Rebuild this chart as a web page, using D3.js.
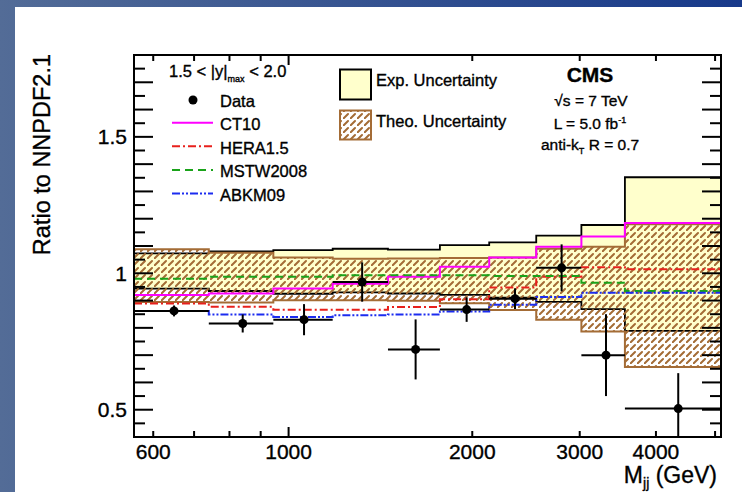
<!DOCTYPE html>
<html>
<head>
<meta charset="utf-8">
<script src="https://cdn.jsdelivr.net/npm/d3@7"></script>
<style>
  body { margin: 0; }
  svg { display: block; font-family: "Liberation Sans", Arial, Helvetica, sans-serif; }
  svg text { stroke: #000; stroke-width: 0.35px; }
</style>
</head>
<body>
<div id="chart"></div>
<script>
// dijet mass bins (GeV), 1.5 < |y|max < 2.0
var binEdges = [558, 740, 944, 1181, 1455, 1770, 2132, 2546, 3019, 3558, 5113];

// measured points, ratio to NNPDF2.1
var dataMass  = [649, 841, 1060, 1320, 1615, 1958, 2350, 2802, 3313, 4351];
var dataRatio = [0.862, 0.816, 0.830, 0.968, 0.721, 0.867, 0.907, 1.020, 0.700, 0.504];
var dataErr   = [0.020, 0.033, 0.057, 0.072, 0.110, 0.045, 0.038, 0.086, 0.150, 0.130];

// experimental and theory uncertainty bands
var expUp    = [1.073, 1.080, 1.085, 1.090, 1.087, 1.103, 1.113, 1.138, 1.177, 1.352];
var expDown  = [0.944, 0.935, 0.925, 0.930, 0.926, 0.921, 0.911, 0.895, 0.869, 0.789];
var theoUp   = [1.088, 1.075, 1.058, 1.053, 1.054, 1.056, 1.058, 1.090, 1.097, 1.180];
var theoDown = [0.895, 0.893, 0.901, 0.901, 0.899, 0.890, 0.865, 0.830, 0.787, 0.657];

// other PDF sets over NNPDF2.1
var ct10     = [0.920, 0.926, 0.944, 0.962, 0.987, 1.024, 1.058, 1.097, 1.135, 1.184];
var hera15   = [0.889, 0.877, 0.866, 0.866, 0.876, 0.905, 0.948, 0.987, 1.022, 1.015];
var mstw2008 = [0.980, 0.987, 0.987, 0.993, 0.993, 0.993, 0.990, 0.990, 0.965, 0.935];
var abkm09   = [0.862, 0.849, 0.840, 0.846, 0.849, 0.860, 0.885, 0.913, 0.929, 0.929];

var xLabels = [600, 1000, 2000, 3000, 4000];
var xTicks  = [600, 700, 800, 900, 1000, 2000, 3000, 4000, 5000];
var yLabels = [0.5, 1, 1.5];
var yTicks  = d3.range(8, 37).map(function(k) { return k * 0.05; });

var W = 742, H = 492;
var padL = 134, padR = 721, padT = 55, padB = 437;

var x = d3.scaleLog().domain([558, 5113]).range([padL, padR]);
var y = d3.scaleLinear().domain([0.4, 1.8]).range([padB, padT]);

var svg = d3.select("#chart").append("svg")
  .attr("width", W)
  .attr("height", H);

var defs = svg.append("defs");
var grad = defs.append("linearGradient").attr("id", "bg")
  .attr("x1", 0).attr("y1", 0).attr("x2", 1).attr("y2", 0);
grad.append("stop").attr("offset", 0).attr("stop-color", "#536c97");
grad.append("stop").attr("offset", 1).attr("stop-color", "#17398a");

var hatch = defs.append("pattern").attr("id", "hatch")
  .attr("patternUnits", "userSpaceOnUse")
  .attr("width", 7).attr("height", 7);
hatch.append("path")
  .attr("d", "M0.5,6.5L5,2")
  .attr("stroke", "#a46c36")
  .attr("stroke-width", 2)
  .attr("stroke-linecap", "round");

defs.append("clipPath").attr("id", "plotclip")
  .append("rect")
  .attr("x", padL).attr("y", padT)
  .attr("width", padR - padL).attr("height", padB - padT);

// slide background
svg.append("rect").attr("width", W).attr("height", H).attr("fill", "url(#bg)");
svg.append("rect").attr("x", 15).attr("y", 7).attr("width", W - 15).attr("height", H - 7).attr("fill", "#fff");

function stepPts(vals) {
  return binEdges.map(function(e, i) { return [e, vals[Math.min(i, vals.length - 1)]]; });
}
var stepLine = d3.line()
  .x(function(d) { return x(d[0]); })
  .y(function(d) { return y(d[1]); })
  .curve(d3.curveStepAfter);
function stepArea(up, down) {
  return d3.area()
    .x(function(d) { return x(d); })
    .y0(function(d, i) { return y(down[Math.min(i, down.length - 1)]); })
    .y1(function(d, i) { return y(up[Math.min(i, up.length - 1)]); })
    .curve(d3.curveStepAfter)(binEdges);
}

var plot = svg.append("g").attr("clip-path", "url(#plotclip)");

// exp. uncertainty
plot.append("path").attr("d", stepArea(expUp, expDown)).attr("fill", "#ffffcc");
[expUp, expDown].forEach(function(v) {
  plot.append("path").attr("d", stepLine(stepPts(v)))
    .attr("fill", "none").attr("stroke", "#000").attr("stroke-width", 1.8);
});

// theo. uncertainty
plot.append("path").attr("d", stepArea(theoUp, theoDown)).attr("fill", "url(#hatch)");
[theoUp, theoDown].forEach(function(v) {
  plot.append("path").attr("d", stepLine(stepPts(v)))
    .attr("fill", "none").attr("stroke", "#a46c36").attr("stroke-width", 2);
});

var curves = [
  { name: "CT10", vals: ct10, color: "#ff00ff", dash: null },
  { name: "HERA1.5", vals: hera15, color: "#e8201c", dash: "8,3,2,3" },
  { name: "MSTW2008", vals: mstw2008, color: "#1aa31a", dash: "8,5" },
  { name: "ABKM09", vals: abkm09, color: "#1c2cf0", dash: "8,2,2,2,2,2" }
];
curves.forEach(function(c) {
  plot.append("path").attr("d", stepLine(stepPts(c.vals)))
    .attr("fill", "none").attr("stroke", c.color).attr("stroke-width", 2)
    .attr("stroke-dasharray", c.dash);
});

// data with errors
var pts = plot.selectAll(".pt").data(dataMass).enter().append("g").attr("class", "pt");
pts.append("line")
  .attr("x1", function(d, i) { return x(binEdges[i]); })
  .attr("x2", function(d, i) { return x(binEdges[i + 1]); })
  .attr("y1", function(d, i) { return y(dataRatio[i]); })
  .attr("y2", function(d, i) { return y(dataRatio[i]); })
  .attr("stroke", "#000").attr("stroke-width", 2);
pts.append("line")
  .attr("x1", function(d) { return x(d); })
  .attr("x2", function(d) { return x(d); })
  .attr("y1", function(d, i) { return y(dataRatio[i] - dataErr[i]); })
  .attr("y2", function(d, i) { return y(dataRatio[i] + dataErr[i]); })
  .attr("stroke", "#000").attr("stroke-width", 2);
pts.append("circle")
  .attr("cx", function(d) { return x(d); })
  .attr("cy", function(d, i) { return y(dataRatio[i]); })
  .attr("r", 4.5)
  .attr("fill", "#000");

// frame and ticks
svg.append("rect")
  .attr("x", padL).attr("y", padT)
  .attr("width", padR - padL).attr("height", padB - padT)
  .attr("fill", "none").attr("stroke", "#000").attr("stroke-width", 2);

var ticks = svg.append("g").attr("stroke", "#000").attr("stroke-width", 2);
yTicks.forEach(function(v, k) {
  var len = (k % 2 === 0) ? 19 : 11;
  ticks.append("line").attr("x1", padL).attr("x2", padL + len).attr("y1", y(v)).attr("y2", y(v));
  ticks.append("line").attr("x1", padR).attr("x2", padR - len).attr("y1", y(v)).attr("y2", y(v));
});
xTicks.forEach(function(m) {
  var len = (m === 1000) ? 10 : 6;
  ticks.append("line").attr("x1", x(m)).attr("x2", x(m)).attr("y1", padB).attr("y2", padB - len);
  ticks.append("line").attr("x1", x(m)).attr("x2", x(m)).attr("y1", padT).attr("y2", padT + len);
});

// tick labels
svg.selectAll(".xl").data(xLabels).enter().append("text")
  .attr("x", function(d) { return x(d); })
  .attr("y", 459)
  .attr("text-anchor", "middle")
  .attr("font-size", 21)
  .text(function(d) { return d; });
svg.selectAll(".yl").data(yLabels).enter().append("text")
  .attr("x", 127)
  .attr("y", function(d) { return y(d) + 7.5; })
  .attr("text-anchor", "end")
  .attr("font-size", 21)
  .text(function(d) { return d; });

// axis titles
var xt = svg.append("text").attr("x", 717).attr("y", 483).attr("text-anchor", "end").attr("font-size", 23);
xt.append("tspan").text("M");
xt.append("tspan").attr("font-size", 14).attr("dy", 5).text("jj");
xt.append("tspan").attr("dy", -5).text(" (GeV)");

svg.append("text")
  .attr("transform", "translate(50,54) rotate(-90)")
  .attr("text-anchor", "end")
  .attr("font-size", 23.5)
  .text("Ratio to NNPDF2.1");

// legend
var leg = svg.append("g").attr("font-size", 16.5);
var rap = leg.append("text").attr("x", 169).attr("y", 77);
rap.append("tspan").text("1.5 < |y|");
rap.append("tspan").attr("font-size", 9).attr("dy", 5).text("max");
rap.append("tspan").attr("dy", -5).text(" < 2.0");

leg.append("circle").attr("cx", 193).attr("cy", 100).attr("r", 4.5).attr("fill", "#000");
leg.append("text").attr("x", 220).attr("y", 106.5).text("Data");

curves.forEach(function(c, i) {
  var ly = 122.7 + i * 23.6;
  leg.append("line")
    .attr("x1", 172).attr("x2", 213).attr("y1", ly).attr("y2", ly)
    .attr("stroke", c.color).attr("stroke-width", 2)
    .attr("stroke-dasharray", c.dash);
  leg.append("text").attr("x", 220).attr("y", ly + 7.5).text(c.name);
});

leg.append("rect").attr("x", 340).attr("y", 69.5).attr("width", 31).attr("height", 30)
  .attr("fill", "#ffffcc").attr("stroke", "#000").attr("stroke-width", 2);
leg.append("text").attr("x", 376).attr("y", 86).text("Exp. Uncertainty");
leg.append("rect").attr("x", 340).attr("y", 110.5).attr("width", 31).attr("height", 29)
  .attr("fill", "url(#hatch)").attr("stroke", "#a46c36").attr("stroke-width", 2);
leg.append("text").attr("x", 376).attr("y", 126.5).text("Theo. Uncertainty");

// experiment labels
var info = svg.append("g").attr("text-anchor", "middle").attr("font-size", 15.5);
info.append("text").attr("x", 590).attr("y", 82).attr("font-size", 21).attr("font-weight", "bold").text("CMS");
info.append("text").attr("x", 591).attr("y", 106).text("\u221As = 7 TeV");
var lum = info.append("text").attr("x", 590).attr("y", 129);
lum.append("tspan").text("L = 5.0 fb");
lum.append("tspan").attr("font-size", 9).attr("dy", -6).text("-1");
var akt = info.append("text").attr("x", 590).attr("y", 150);
akt.append("tspan").text("anti-k");
akt.append("tspan").attr("font-size", 9).attr("dy", 4).text("T");
akt.append("tspan").attr("dy", -4).text(" R = 0.7");
</script>
</body>
</html>
